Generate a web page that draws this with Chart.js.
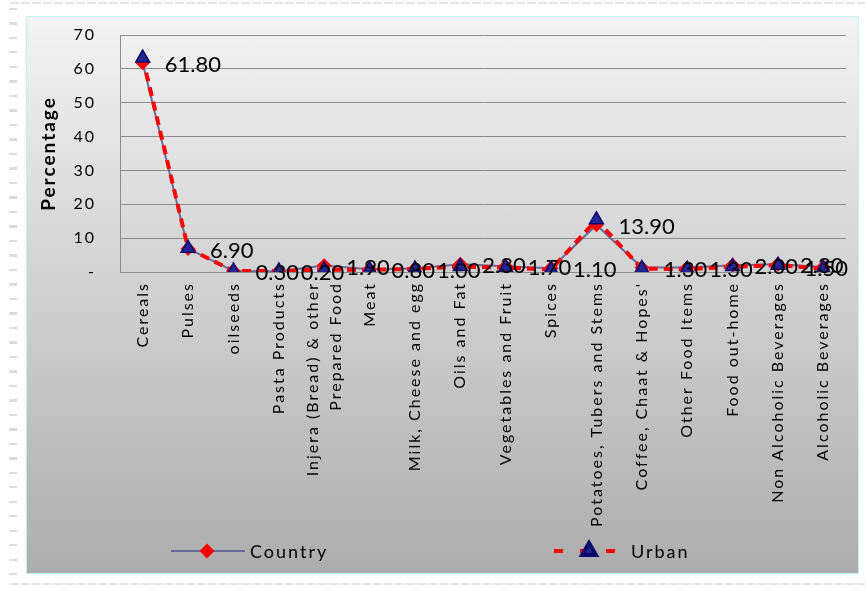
<!DOCTYPE html>
<html>
<head>
<meta charset="utf-8">
<script src="https://cdn.jsdelivr.net/npm/chart.js@4.4.1/dist/chart.umd.min.js"></script>
<style>
  html, body { margin: 0; padding: 0; background: #fff; }
  body { width: 865px; height: 589px; position: relative; overflow: hidden; }
  .ruler { position: absolute; left: 9px; top: 8px; width: 8px; height: 575px;
    background: repeating-linear-gradient(to bottom, #dcdcdc 0 2px, transparent 2px 14.5px); }
  .dash { position: absolute; left: 10px; width: 855px; height: 2px;
    background: repeating-linear-gradient(to right, #e4e4e4 0 9px, transparent 9px 11px); }
  #box { position: absolute; left: 26px; top: 16px; width: 831px; height: 556px;
    border: 1px solid #c6f2f2;
    background: linear-gradient(to bottom, #f3f3f3 0%, #adadad 100%); }
  canvas { display: block; }
</style>
</head>
<body>
<div class="ruler"></div>
<div class="dash" style="top:2px"></div>
<div class="dash" style="top:583px"></div>
<div id="box"><canvas id="foodChart" width="831" height="556"></canvas></div>
<script>
    // categorias e valores
    const categories = [
        'Cereals', 'Pulses', 'oilseeds', 'Pasta Products',
        ['Injera (Bread) & other', 'Prepared Food'], 'Meat', 'Milk, Cheese and egg',
        'Oils and Fat', 'Vegetables and Fruit', 'Spices', 'Potatoes, Tubers and Stems',
        "Coffee, Chaat & Hopes'", 'Other Food Items', 'Food out-home',
        'Non Alcoholic Beverages', 'Alcoholic Beverages'
    ];
    const countryValues = [61.8, 6.9, 0.3, 0.2, 1.9, 0.8, 1.0, 2.3, 1.7, 1.1, 13.9, 1.3, 1.3, 2.0, 2.3, 1.5];
    const urbanValues = [63.2, 7.0, 0.3, 0.3, 0.7, 0.7, 0.9, 1.6, 1.3, 0.7, 15.4, 1.0, 0.8, 1.6, 2.0, 1.0];
    const yTicks = [0, 10, 20, 30, 40, 50, 60, 70];

    const FONT = 'Lato, "Open Sans", sans-serif';
    const lineGrey = '#6a6a9a';
    const navy = '#262693';

    // espaçamento de letras como no original
    const spacingPlugin = {
        id: 'spacing',
        beforeLayout(chart) { chart.ctx.letterSpacing = '2px'; },
        beforeDraw(chart) {
            chart.ctx.letterSpacing = '2px';
            // centra os rótulos de várias linhas no tick
            chart.scales.x.getLabelItems().forEach(item => {
                if (Array.isArray(item.label)) {
                    const lh = item.font.lineHeight;
                    item.textOffset = lh / 2 - (item.label.length - 1) * lh / 2;
                }
            });
        }
    };

    // rótulos de dados e legenda
    const extrasPlugin = {
        id: 'extras',
        afterDatasetsDraw(chart) {
            const ctx = chart.ctx;
            const meta = chart.getDatasetMeta(0);
            ctx.save();
            ctx.letterSpacing = '0px';
            ctx.font = '22px ' + FONT;
            ctx.fillStyle = '#000';
            ctx.textBaseline = 'middle';
            ctx.textAlign = 'left';
            meta.data.forEach((pt, i) => {
                const txt = countryValues[i].toFixed(2);
                const w = ctx.measureText(txt).width;
                let x = pt.x + 22;
                if (x + w > chart.chartArea.right + 2) x = chart.chartArea.right + 2 - w;
                ctx.fillText(txt, x, pt.y + 2);
            });
            ctx.restore();
        },
        afterDraw(chart) {
            const ctx = chart.ctx;
            const y = 534;
            ctx.save();
            // Country
            ctx.strokeStyle = lineGrey;
            ctx.lineWidth = 2;
            ctx.beginPath(); ctx.moveTo(144, y); ctx.lineTo(218, y); ctx.stroke();
            ctx.fillStyle = '#ff0000'; ctx.strokeStyle = '#ff0000';
            Chart.helpers.drawPoint(ctx, {pointStyle: 'rectRot', radius: 6, borderWidth: 1}, 180, y);
            // Urban
            ctx.strokeStyle = '#ff0000';
            ctx.lineWidth = 4;
            ctx.setLineDash([9, 17]);
            ctx.beginPath(); ctx.moveTo(527, y); ctx.lineTo(592, y); ctx.stroke();
            ctx.setLineDash([]);
            ctx.fillStyle = navy; ctx.strokeStyle = '#0a0a6e';
            Chart.helpers.drawPoint(ctx, {pointStyle: 'triangle', radius: 8, borderWidth: 1.5}, 562, y);
            // textos
            ctx.letterSpacing = '2px';
            ctx.font = '18px ' + FONT;
            ctx.fillStyle = '#000';
            ctx.textBaseline = 'middle';
            ctx.textAlign = 'left';
            ctx.fillText('Country', 223, y + 1);
            ctx.fillText('Urban', 604, y + 1);
            ctx.restore();
        }
    };

    const ctx = document.getElementById('foodChart').getContext('2d');
    new Chart(ctx, {
        type: 'line',
        data: {
            labels: categories,
            datasets: [{
                label: 'Country',
                data: countryValues,
                borderColor: lineGrey,
                borderWidth: 2,
                pointStyle: 'rectRot',
                pointRadius: 6,
                pointBackgroundColor: '#ff0000',
                pointBorderColor: '#ff0000',
                tension: 0,
                order: 1
            }, {
                label: 'Urban',
                data: urbanValues,
                borderColor: '#ff0000',
                borderWidth: 4,
                borderDash: [9, 6],
                pointStyle: 'triangle',
                pointRadius: 8,
                pointBackgroundColor: navy,
                pointBorderColor: '#0a0a6e',
                pointBorderWidth: 1.5,
                tension: 0,
                order: 0
            }]
        },
        options: {
            responsive: false,
            animation: false,
            layout: { padding: { top: 18, right: 12, left: 0, bottom: 0 } },
            plugins: {
                legend: { display: false },
                tooltip: { enabled: false }
            },
            scales: {
                x: {
                    offset: true,
                    grid: { display: false, drawTicks: false },
                    border: { color: '#8c8c8c' },
                    ticks: {
                        autoSkip: false,
                        maxRotation: 90,
                        minRotation: 90,
                        padding: 10,
                        color: '#000',
                        font: { family: FONT, size: 16, lineHeight: 1.4 }
                    },
                    afterFit(s) { s.height = 301; }
                },
                y: {
                    min: 0,
                    max: 70,
                    afterBuildTicks(s) { s.ticks = yTicks.map(v => ({ value: v })); },
                    grid: { color: '#8c8c8c', drawTicks: false },
                    border: { color: '#8c8c8c' },
                    ticks: {
                        padding: 24,
                        color: '#000',
                        font: { family: FONT, size: 16 },
                        callback: v => v === 0 ? '-' : v
                    },
                    title: {
                        display: true,
                        text: 'Percentage',
                        color: '#000',
                        padding: { top: 10, bottom: 0 },
                        font: { family: FONT, size: 19, weight: 'bold' }
                    },
                    afterFit(s) {
                        s.width = 93;
                        s.paddingTop = 0;
                        s.paddingBottom = 0;
                    }
                }
            }
        },
        plugins: [spacingPlugin, extrasPlugin]
    });
</script>
</body>
</html>
